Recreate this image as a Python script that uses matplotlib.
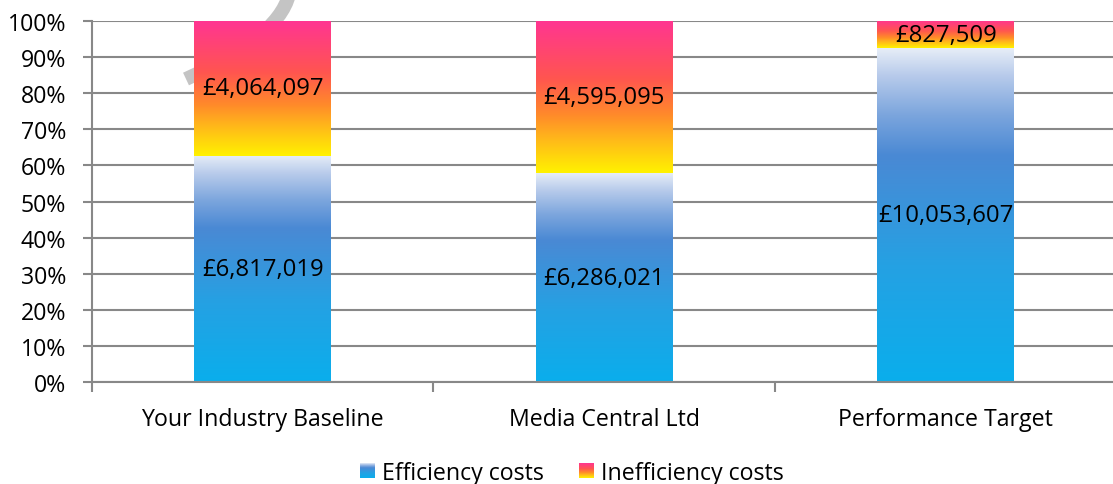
import numpy as np
import matplotlib
matplotlib.use("Agg")
import matplotlib.pyplot as plt
from matplotlib.colors import LinearSegmentedColormap, Normalize
from matplotlib.legend_handler import HandlerBase
from matplotlib.image import BboxImage
from matplotlib.transforms import Bbox, TransformedBbox, IdentityTransform
from matplotlib.patches import Rectangle, PathPatch
from matplotlib.path import Path

# data
categories = ["Your Industry Baseline", "Media Central Ltd", "Performance Target"]
efficiency = [6817019, 6286021, 10053607]
inefficiency = [4064097, 4595095, 827509]
series_names = ["Efficiency costs", "Inefficiency costs"]

plt.rcParams["font.family"] = ["Open Sans", "DejaVu Sans"]

blue_cmap = LinearSegmentedColormap.from_list("eff", [
    (0.0, "#0aaeec"), (0.35, "#25a1e3"), (0.55, "#3c92da"),
    (0.68, "#4a89d4"), (0.80, "#7ba5dd"), (0.92, "#b8cbeb"), (1.0, "#e6edf7")])
fire_cmap = LinearSegmentedColormap.from_list("ineff", [
    (0.0, "#fff200"), (0.22, "#ffb81a"), (0.38, "#ff8a2a"),
    (0.62, "#ff5550"), (1.0, "#ff3592")])

W, H = 1113, 485
fig = plt.figure(figsize=(W / 100, H / 100), dpi=100)
ax = fig.add_axes([92 / W, (H - 383) / H, 1024.5 / W, 361 / H])
ax.set_facecolor("none")

eff = np.array(efficiency, dtype=float)
ineff = np.array(inefficiency, dtype=float)
total = eff + ineff
eff_p = eff / total

grad = np.linspace(0, 1, 256).reshape(-1, 1)
bw = 0.4
fs = 16.7
x = np.arange(len(categories))
for i in range(len(categories)):
    segs = [(0, eff_p[i], blue_cmap, efficiency[i]),
            (eff_p[i], 1.0, fire_cmap, inefficiency[i])]
    for y0, y1, cm, val in segs:
        ax.imshow(grad, extent=(x[i] - bw / 2, x[i] + bw / 2, y0, y1),
                  origin="lower", aspect="auto", cmap=cm, zorder=2,
                  interpolation="bilinear")
        ax.text(x[i], (y0 + y1) / 2, f"£{val:,.0f}", ha="center", va="center",
                fontsize=17.2, color="black", zorder=4)

ax.set_xlim(-0.5, 2.5)
ax.set_ylim(0, 1)

# faint watermark stroke (mostly hidden behind the first bar)
px = [(290, -10), (285, 35), (186, 80)]
verts = [(a, H - b) for a, b in px]
wm = PathPatch(Path(verts, [Path.MOVETO, Path.CURVE3, Path.CURVE3]),
               transform=IdentityTransform(), fill=False, edgecolor="#c4c4c4",
               lw=10, capstyle="butt", zorder=1.5, clip_on=False)
ax.add_artist(wm)

grid_c = "#888888"
ax.set_yticks(np.linspace(0, 1, 11))
ax.set_yticklabels([f"{int(round(v * 100))}%" for v in np.linspace(0, 1, 11)])
ax.yaxis.grid(True, color=grid_c, lw=1.5, zorder=0.5)
ax.set_axisbelow(True)
ax.tick_params(axis="y", length=6.5, width=1.5, color=grid_c, pad=12,
               labelsize=fs, labelcolor="black")

ax.set_xticks(x)
ax.set_xticklabels(categories)
ax.set_xticks([-0.5, 0.5, 1.5, 2.5], minor=True)
ax.tick_params(axis="x", which="major", length=0, pad=18, labelsize=fs,
               labelcolor="black")
ax.tick_params(axis="x", which="minor", length=7, width=1.5, color=grid_c)

for s in ["top", "right"]:
    ax.spines[s].set_visible(False)
for s in ["left", "bottom"]:
    ax.spines[s].set_color(grid_c)
    ax.spines[s].set_linewidth(1.5)


class GradHandler(HandlerBase):
    def __init__(self, cmap):
        super().__init__()
        self.cmap = cmap

    def create_artists(self, legend, orig_handle, xdescent, ydescent,
                       width, height, fontsize, trans):
        s = min(width, height)
        x0 = -xdescent + (width - s) / 2
        y0 = -ydescent + (height - s) / 2
        bb = TransformedBbox(Bbox.from_bounds(x0, y0, s, s), trans)
        im = BboxImage(bb, cmap=self.cmap, norm=Normalize(0, 1),
                       origin="lower", interpolation="bilinear")
        im.set_data(grad)
        return [im]


h1 = Rectangle((0, 0), 1, 1)
h2 = Rectangle((0, 0), 1, 1)
fig.legend([h1, h2], series_names, loc="center", bbox_to_anchor=(572 / W, (H - 474) / H),
           ncol=2, frameon=False, fontsize=fs, handlelength=0.62, handleheight=0.62,
           handletextpad=0.35, columnspacing=1.5,
           handler_map={h1: GradHandler(blue_cmap), h2: GradHandler(fire_cmap)})

fig.savefig("out.png", dpi=100)
